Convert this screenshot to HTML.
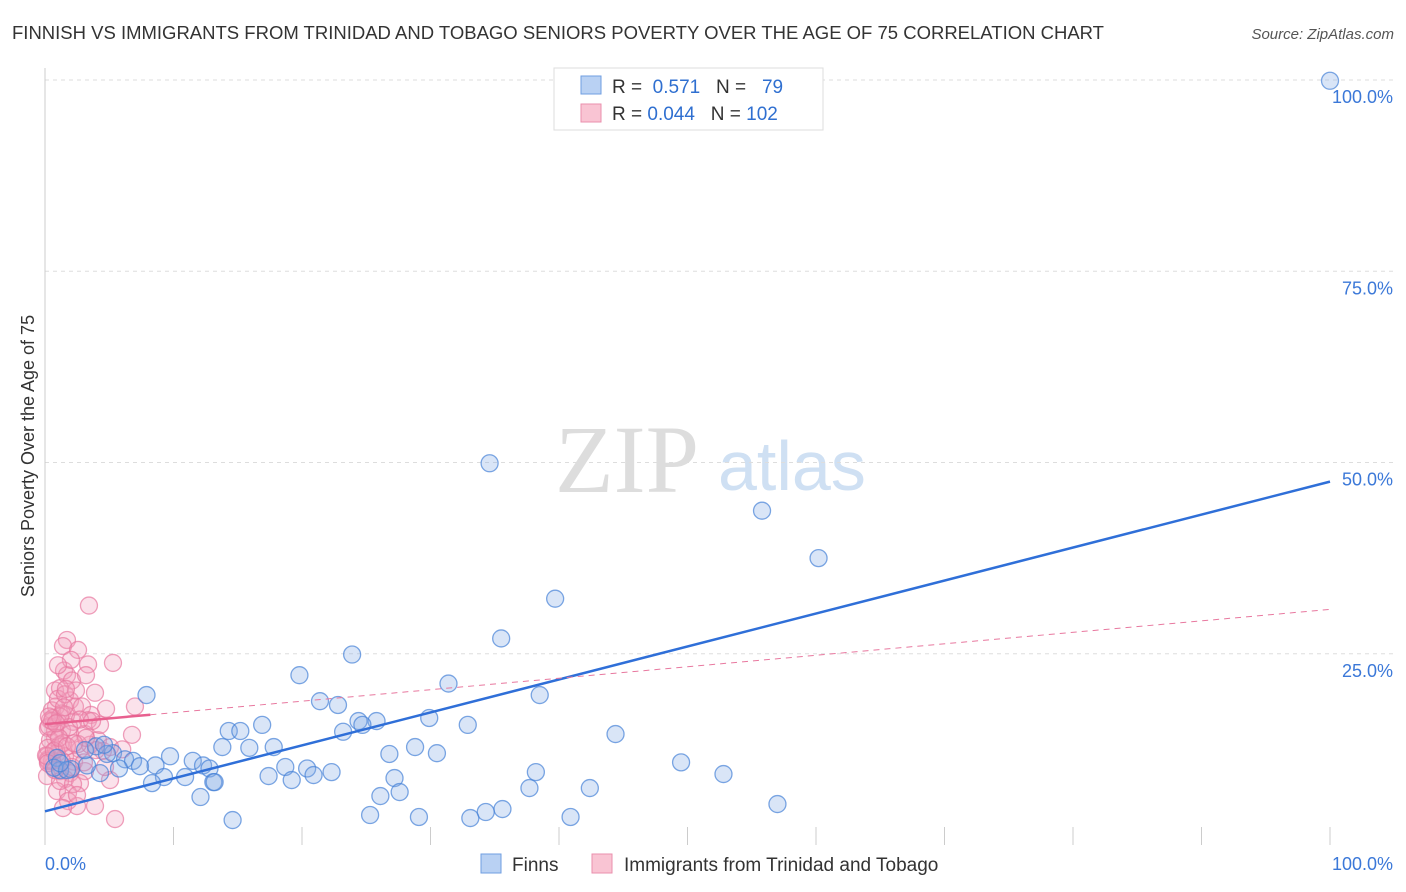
<!DOCTYPE html>
<html><head><meta charset="utf-8"><style>
body{margin:0;background:#fff;font-family:"Liberation Sans",sans-serif}
svg{display:block}
</style></head><body>
<svg id="c" width="1406" height="892">
<text x="12" y="39" font-size="18" fill="#333" textLength="1092" lengthAdjust="spacingAndGlyphs">FINNISH VS IMMIGRANTS FROM TRINIDAD AND TOBAGO SENIORS POVERTY OVER THE AGE OF 75 CORRELATION CHART</text>
<text x="1394" y="39" font-size="15" fill="#555" font-style="italic" text-anchor="end">Source: ZipAtlas.com</text>
<text transform="translate(34,456) rotate(-90)" font-size="18" fill="#333" text-anchor="middle">Seniors Poverty Over the Age of 75</text>
<text x="555" y="492" font-size="96" fill="#ddd" font-family="Liberation Serif,serif">ZIP</text>
<text x="718" y="490" font-size="70" fill="#cfe0f3">atlas</text>
<g id="grid"></g><g id="pts"></g><g id="lines"></g>
<g>
<rect x="554" y="68" width="269" height="62" fill="#fff" stroke="#ddd"/>
<rect x="581" y="76" width="20" height="18" fill="#b9d1f3" stroke="#6f9ee0"/>
<rect x="581" y="104" width="20" height="18" fill="#f9c4d3" stroke="#ea8fac"/>
<text x="612" y="93" font-size="19" fill="#333">R = <tspan fill="#2f6fd0">&#160;0.571</tspan>&#160;&#160;&#160;N = <tspan fill="#2f6fd0">&#160;&#160;79</tspan></text>
<text x="612" y="120" font-size="19" fill="#333">R = <tspan fill="#2f6fd0">0.044</tspan>&#160;&#160;&#160;N = <tspan fill="#2f6fd0">102</tspan></text>
</g>
<g>
<rect x="481" y="854" width="20" height="19" fill="#b9d1f3" stroke="#6f9ee0"/>
<text x="512" y="871" font-size="19" fill="#333">Finns</text>
<rect x="592" y="854" width="20" height="19" fill="#f9c4d3" stroke="#ea8fac"/>
<text x="624" y="871" font-size="19" fill="#333">Immigrants from Trinidad and Tobago</text>
</g>
</svg>
<script>
const NS="http://www.w3.org/2000/svg";
const yTicks=[25,50,75,100];
const yTickLabels=["25.0%","50.0%","75.0%","100.0%"];
const xTickLabels=["0.0%","100.0%"];
const blueX=[100,34.6,55.8,60.2,39.7,35.5,23.9,19.8,31.4,7.9,38.5,21.4,22.8,24.4,25.8,24.7,29.9,32.9,16.9,14.3,15.2,23.2,44.4,15.9,13.8,17.8,28.8,30.5,3.97,5.29,9.73,4.82,6.23,6.85,11.5,26.8,0.93,12.3,12.8,8.6,7.39,5.76,49.5,18.7,20.4,22.3,1.17,4.28,9.26,10.9,38.2,52.8,17.4,19.2,20.9,27.2,8.33,13.1,13.2,37.7,42.4,27.6,26.1,12.1,57.0,35.6,34.3,29.1,25.3,33.1,40.9,14.6,2.02,0.70,3.27,1.71,4.59,3.11,1.17];
const blueY=[99.9,49.9,43.7,37.5,32.2,27.0,24.9,22.2,21.1,19.6,19.6,18.8,18.3,16.2,16.2,15.7,16.6,15.7,15.7,14.9,14.9,14.8,14.5,12.7,12.8,12.8,12.8,12.0,12.9,12.0,11.6,11.9,11.2,11.0,11.0,11.9,11.4,10.4,10.0,10.4,10.3,10.0,10.8,10.2,10.0,9.53,9.79,9.40,8.88,8.88,9.53,9.27,9.01,8.49,9.14,8.75,8.09,8.22,8.22,7.44,7.44,6.92,6.40,6.27,5.35,4.70,4.31,3.66,3.92,3.52,3.66,3.26,9.92,10.1,10.4,9.79,13.1,12.4,10.7];
const pinkX=[3.42,1.71,1.40,2.57,1.48,3.35,5.29,1.71,2.10,3.19,0.78,1.17,3.89,1.95,0.86,2.33,2.88,4.75,7.00,0.54,1.32,3.58,0.39,1.01,2.18,3.35,0.23,1.32,1.95,0.78,6.77,0.39,1.17,0.23,4.12,0.93,1.56,0.23,2.72,2.26,0.54,1.17,1.95,3.11,0.16,1.56,2.72,0.93,1.79,3.89,2.49,5.45,1.79,4.51,3.50,1.32,0.78,0.31,0.62,1.63,3.11,2.57,1.01,1.56,0.54,0.16,0.86,1.40,1.87,2.41,2.72,4.28,1.17,2.18,5.06,3.66,0.23,0.08,0.70,1.63,2.02,1.01,4.67,3.97,0.54,1.17,2.10,3.03,5.06,6.01,1.09,1.71,0.31,3.19,0.78,1.40,2.49,0.23,0.86,1.48,2.26];
const pinkY=[31.3,26.8,26.0,25.5,22.8,23.6,23.8,22.2,21.5,22.2,20.2,20.5,19.9,18.9,18.1,18.1,18.1,17.8,18.1,17.6,17.2,17.0,16.3,16.1,16.1,16.3,15.3,15.0,14.5,14.0,14.4,13.7,13.1,12.7,13.7,12.0,11.6,11.2,12.5,10.9,10.3,9.66,9.40,9.66,9.01,8.62,8.09,7.05,6.79,5.09,5.09,3.39,5.74,12.3,13.1,11.0,14.9,15.5,16.6,17.0,14.5,13.2,19.1,19.7,11.0,11.6,12.5,13.3,15.4,20.2,16.4,15.7,8.36,7.96,8.49,16.2,11.0,11.7,12.3,20.4,24.2,23.5,10.2,12.4,16.2,16.8,10.2,10.8,12.8,12.5,14.0,12.9,16.8,14.0,9.79,4.83,6.53,10.7,15.9,18.0,13.3];
const blueLine=[4.4,47.5], pinkLine=[15.8,30.8];
const X0=45,X1=1330,Y0=845,Yh=80;
const sx=v=>X0+(X1-X0)*v/100, sy=v=>Y0-(Y0-Yh)*v/100;
function mk(t,a,p){const e=document.createElementNS(NS,t);for(const k in a)e.setAttribute(k,a[k]);p.appendChild(e);return e;}
const grid=document.getElementById('grid');
yTicks.forEach((t,i)=>{
 const l=mk('line',{x1:X0,x2:1395,y1:sy(t),y2:sy(t),stroke:'#ddd','stroke-dasharray':'4,4'},grid);
 
 
 const tx=mk('text',{x:1393,y:sy(t)+23,'font-size':18,fill:'#3b78d8','text-anchor':'end'},grid);
 tx.textContent=yTickLabels[i];
 
 
});
mk('line',{x1:X0,x2:X0,y1:68,y2:Y0,stroke:'#ccc'},grid);
for(let i=0;i<=10;i++){mk('line',{x1:sx(i*10),x2:sx(i*10),y1:827,y2:Y0,stroke:'#ccc'},grid);}
[[0,'start',45],[1,'end',1393]].forEach(([i,a,x])=>{
 const t=mk('text',{x:x,y:870,'font-size':18,fill:'#3b78d8','text-anchor':a},grid);
 t.textContent=xTickLabels[i];
 
 
});
const pts=document.getElementById('pts');
pinkX.forEach((x,i)=>{const c=mk('circle',{cx:sx(x),cy:sy(pinkY[i]),r:8.5,fill:'rgba(243,160,188,0.3)',stroke:'rgba(232,120,160,0.7)','stroke-width':1.3},pts);
 
 });
blueX.forEach((x,i)=>{const c=mk('circle',{cx:sx(x),cy:sy(blueY[i]),r:8.5,fill:'rgba(130,170,230,0.3)',stroke:'rgba(70,130,215,0.7)','stroke-width':1.3},pts);
 
 });
const ln=document.getElementById('lines');
const b=mk('line',{x1:sx(0),y1:sy(blueLine[0]),x2:sx(100),y2:sy(blueLine[1]),stroke:'#2f6fd8','stroke-width':2.5},ln);


const pv=x=>pinkLine[0]+(pinkLine[1]-pinkLine[0])*x/100;
const p1=mk('line',{x1:sx(0),y1:sy(pv(0)),x2:sx(8.2),y2:sy(pv(8.2)),stroke:'#e8608f','stroke-width':2.5},ln);


const p2=mk('line',{x1:sx(8.2),y1:sy(pv(8.2)),x2:sx(100),y2:sy(pv(100)),stroke:'#e8789f','stroke-width':1,'stroke-dasharray':'6,5'},ln);


</script>
</body></html>
